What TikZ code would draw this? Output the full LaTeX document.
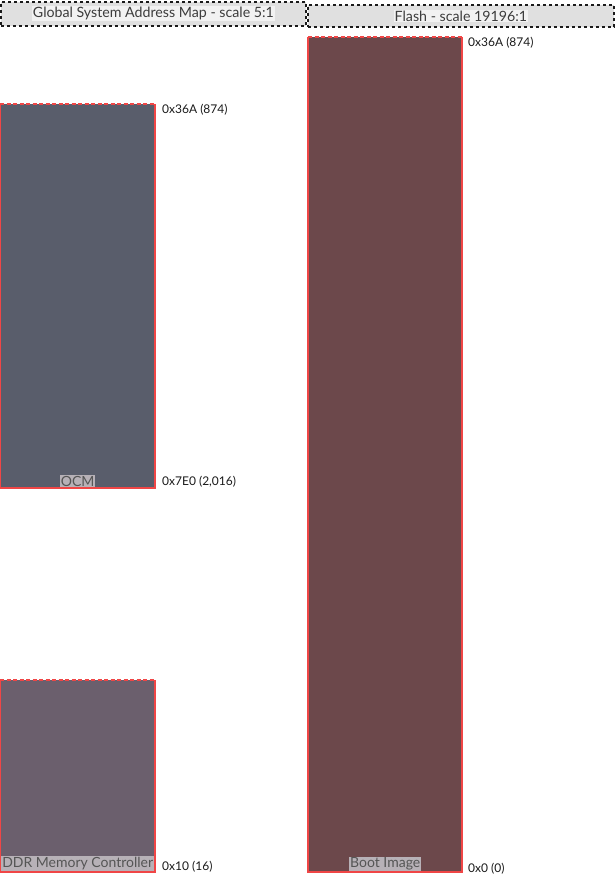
\documentclass[tikz,border=0pt]{standalone}
\usepackage{fontspec}
\setmainfont{Lato}
\usepackage{tikz}
\usetikzlibrary{positioning}
\definecolor{Ink}{HTML}{1A1A1A}
\definecolor{Head}{HTML}{E0E0E0}
\definecolor{HeadText}{HTML}{F2F2F2}
\definecolor{Edge}{HTML}{F04646}
\definecolor{Slate}{HTML}{595D6B}
\definecolor{Mauve}{HTML}{6B5F6D}
\definecolor{Wine}{HTML}{6C484B}
\definecolor{TagFill}{HTML}{B7B1B7}
\definecolor{TagText}{HTML}{555555}

\begin{document}
\begin{tikzpicture}[
  x=1pt, y=-1pt,
  font=\fontsize{12}{14}\selectfont,
  header/.style={draw=Ink, dashed, line width=1.8pt, fill=Head, anchor=north west, inner sep=0pt},
  headtext/.style={fill=HeadText, inner sep=1pt, text=Ink!85, font=\fontsize{14.2}{16}\selectfont},
  region/.style={anchor=north west, inner sep=0pt, minimum width=155pt},
  edge/.style={draw=Edge, line width=2pt},
  topedge/.style={draw=Edge, line width=2pt, dash pattern=on 4pt off 2.5pt},
  tag/.style={fill=TagFill, text=TagText, inner sep=1pt, anchor=south, font=\fontsize{14}{16}\selectfont},
  addr/.style={anchor=west, inner sep=0pt, text=Ink}
]
\useasboundingbox (0,0) rectangle (614,874);

% headers
\node[header, minimum width=305pt, minimum height=24pt] (globalhead) at (0,1) {};
\node[headtext] (globaltitle) at (globalhead.center) {Global System Address Map - scale 5:1};
\node[header, minimum width=306pt, minimum height=22pt] (flashhead) at (307,4) {};
\node[headtext] (flashtitle) at (flashhead.center) {Flash - scale 19196:1};

% global map
\node[region, fill=Slate, minimum height=384pt] (ocm) at (0,104) {};
\node[region, fill=Mauve, minimum height=192pt] (ddr) at (0,680) {};
% flash
\node[region, fill=Wine, minimum height=835pt, minimum width=154pt] (boot) at (308,37) {};

\foreach \blk in {ocm, ddr, boot} {
  \draw[edge] (\blk.north west) -- (\blk.south west) -- (\blk.south east) -- (\blk.north east);
  \draw[topedge] (\blk.north west) -- (\blk.north east);
}

\node[tag] (ocmtag) at ([yshift=1pt]ocm.south) {OCM};
\node[tag] (ddrtag) at ([yshift=1pt]ddr.south) {DDR Memory Controller};
\node[tag] (boottag) at ([yshift=1pt]boot.south) {Boot Image};

% addresses
\node[addr] (ocmtop) at (162,110) {0x36A (874)};
\node[addr] (ocmbot) at (162,482) {0x7E0 (2,016)};
\node[addr] (ddrbot) at (162,867) {0x10 (16)};
\node[addr] (boottop) at (468,43) {0x36A (874)};
\node[addr] (bootbot) at (468,869) {0x0 (0)};
\end{tikzpicture}
\end{document}
